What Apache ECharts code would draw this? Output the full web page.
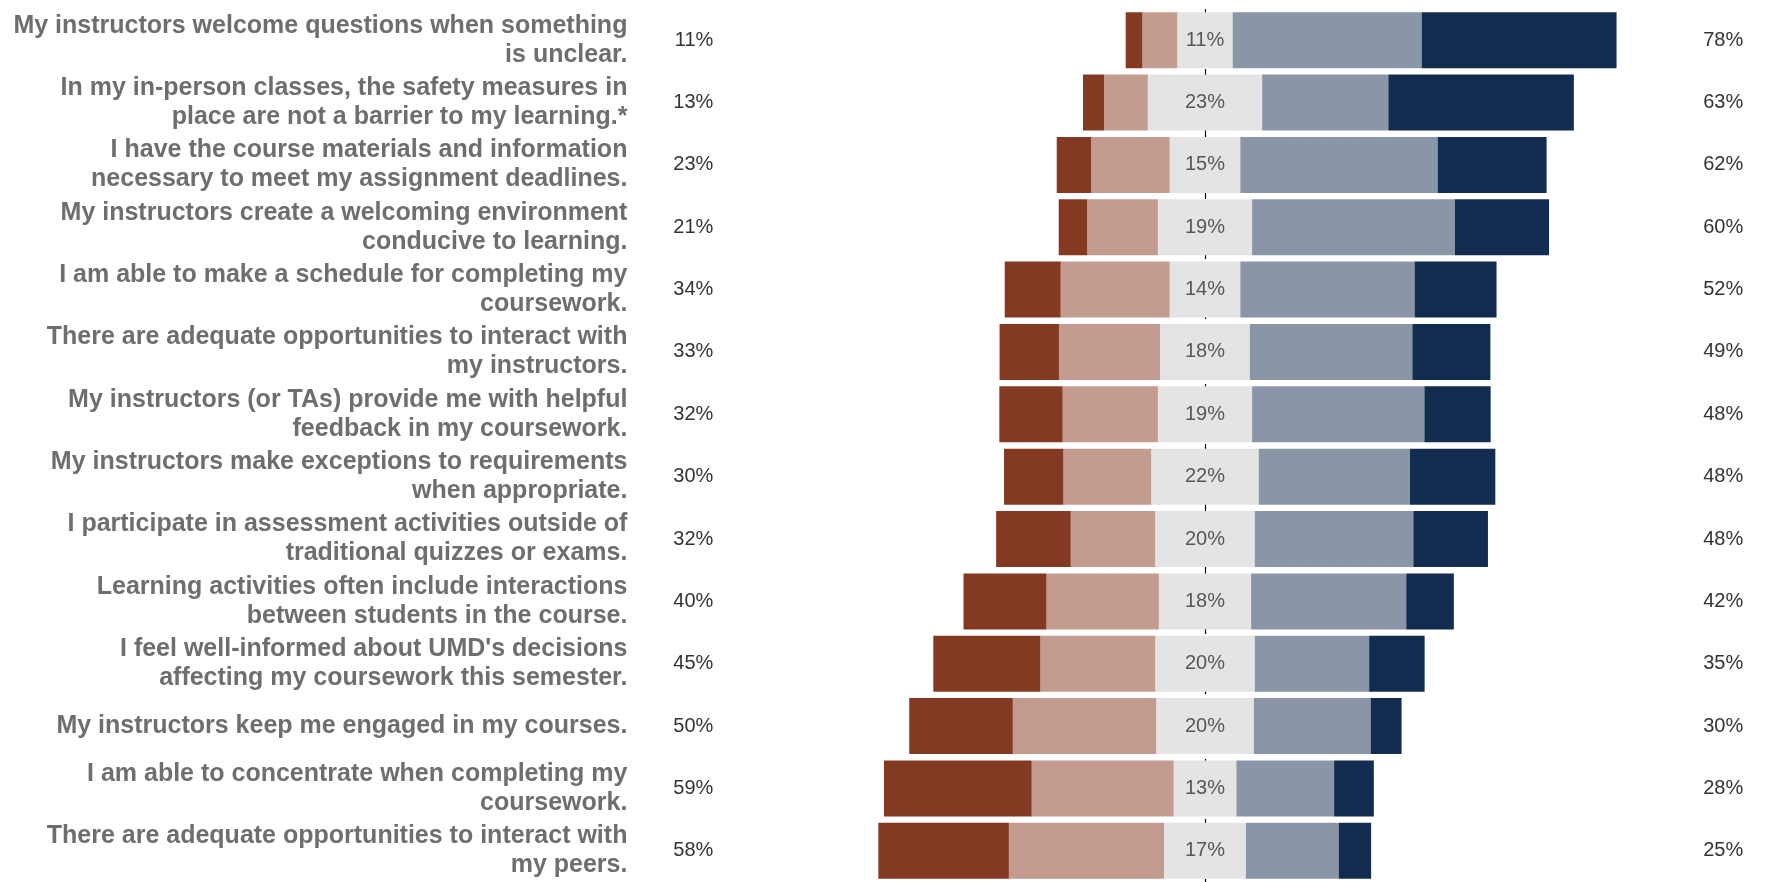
<!DOCTYPE html>
<html>
<head>
<meta charset="utf-8">
<script src="https://cdn.jsdelivr.net/npm/echarts@6/dist/echarts.min.js"></script>
<style>
html,body{margin:0;padding:0;background:#fff;}
#chart{width:1766px;height:882px;}
</style>
</head>
<body>
<div id="chart"></div>
<script>
const categories = [
  "My instructors welcome questions when something\nis unclear.",
  "In my in-person classes, the safety measures in\nplace are not a barrier to my learning.*",
  "I have the course materials and information\nnecessary to meet my assignment deadlines.",
  "My instructors create a welcoming environment\nconducive to learning.",
  "I am able to make a schedule for completing my\ncoursework.",
  "There are adequate opportunities to interact with\nmy instructors.",
  "My instructors (or TAs) provide me with helpful\nfeedback in my coursework.",
  "My instructors make exceptions to requirements\nwhen appropriate.",
  "I participate in assessment activities outside of\ntraditional quizzes or exams.",
  "Learning activities often include interactions\nbetween students in the course.",
  "I feel well-informed about UMD's decisions\naffecting my coursework this semester.",
  "My instructors keep me engaged in my courses.",
  "I am able to concentrate when completing my\ncoursework.",
  "There are adequate opportunities to interact with\nmy peers."
];

// Shares of responses (%)
const stronglyDisagree = [3.4, 4.3, 7.0, 5.8, 11.4, 12.1, 12.9, 12.1, 15.2, 16.9, 21.8, 21.1, 30.1, 26.6];
const disagree         = [7.1, 8.9, 16.0, 14.4, 22.2, 20.6, 19.4, 17.9, 17.2, 22.9, 23.4, 29.2, 28.9, 31.6];
const neutral          = [11.3, 23.3, 14.4, 19.2, 14.4, 18.3, 19.2, 21.9, 20.3, 18.8, 20.3, 19.9, 12.8, 16.7];
const agree            = [38.5, 25.7, 40.2, 41.3, 35.5, 33.1, 35.1, 30.8, 32.3, 31.6, 23.3, 23.8, 19.9, 18.9];
const stronglyAgree    = [39.7, 37.8, 22.2, 19.2, 16.7, 15.9, 13.5, 17.4, 15.2, 9.7, 11.3, 6.3, 8.1, 6.6];

// Printed percentage labels
const disagreeLabels = [11, 13, 23, 21, 34, 33, 32, 30, 32, 40, 45, 50, 59, 58];
const neutralLabels  = [11, 23, 15, 19, 14, 18, 19, 22, 20, 18, 20, 20, 13, 17];
const agreeLabels    = [78, 63, 62, 60, 52, 49, 48, 48, 48, 42, 35, 30, 28, 25];

const colors = {
  sd: '#843A22',
  d: '#C39B8F',
  n: '#E4E4E4',
  a: '#8A96A7',
  sa: '#122D50'
};

const FONT = "'Liberation Sans', Arial, sans-serif";

function barSeries(name, data, color, sign) {
  return {
    name: name,
    type: 'bar',
    stack: 'total',
    yAxisIndex: 0,
    barWidth: 56,
    z: 3,
    data: data.map(v => sign * v),
    itemStyle: { color: color },
    emphasis: { disabled: true },
    silent: true
  };
}

const chart = echarts.init(document.getElementById('chart'), null, { renderer: 'canvas' });

const option = {
  animation: false,
  backgroundColor: '#ffffff',
  grid: { left: 861.4, right: 143.8, top: 9, height: 874, containLabel: false },
  xAxis: {
    type: 'value',
    min: -70,
    max: 85,
    show: false
  },
  yAxis: [
    {
      type: 'category',
      data: categories,
      inverse: true,
      position: 'left',
      axisLine: { show: false },
      axisTick: { show: false },
      splitLine: { show: false },
      axisLabel: {
        interval: 0,
        margin: 234,
        align: 'right',
        color: '#6e6e6e',
        fontFamily: FONT,
        fontWeight: 'bold',
        fontSize: 25,
        lineHeight: 29
      }
    },
    {
      type: 'category',
      data: categories,
      inverse: true,
      position: 'left',
      axisLine: { show: false },
      axisTick: { show: false },
      splitLine: { show: false },
      axisLabel: {
        interval: 0,
        margin: 148,
        align: 'right',
        color: '#333333',
        fontFamily: FONT,
        fontSize: 20,
        formatter: (v, i) => disagreeLabels[i] + '%'
      }
    },
    {
      type: 'category',
      data: categories,
      inverse: true,
      position: 'right',
      axisLine: { show: false },
      axisTick: { show: false },
      splitLine: { show: false },
      axisLabel: {
        interval: 0,
        margin: 81,
        align: 'left',
        color: '#333333',
        fontFamily: FONT,
        fontSize: 20,
        formatter: (v, i) => agreeLabels[i] + '%'
      }
    }
  ],
  series: [
    {
      name: 'center',
      type: 'line',
      data: [],
      z: 1,
      silent: true,
      markLine: {
        z: 1,
        silent: true,
        symbol: ['none', 'none'],
        label: { show: false },
        lineStyle: { type: [10, 5], color: '#000', width: 1.2 },
        data: [{ xAxis: 0 }]
      }
    },
    barSeries('Neutral (left half)', neutral.map(v => v / 2), colors.n, -1),
    barSeries('Disagree', disagree, colors.d, -1),
    barSeries('Strongly disagree', stronglyDisagree, colors.sd, -1),
    barSeries('Neutral (right half)', neutral.map(v => v / 2), colors.n, 1),
    barSeries('Agree', agree, colors.a, 1),
    barSeries('Strongly agree', stronglyAgree, colors.sa, 1),
    {
      name: 'Neutral label',
      type: 'scatter',
      yAxisIndex: 0,
      z: 6,
      symbolSize: 1,
      silent: true,
      itemStyle: { color: 'rgba(0,0,0,0)' },
      data: categories.map((c, i) => [0, i]),
      label: {
        show: true,
        position: 'inside',
        color: '#333333',
        fontFamily: FONT,
        fontSize: 20,
        formatter: p => neutralLabels[p.dataIndex] + '%'
      }
    }
  ]
};

chart.setOption(option);
</script>
</body>
</html>
